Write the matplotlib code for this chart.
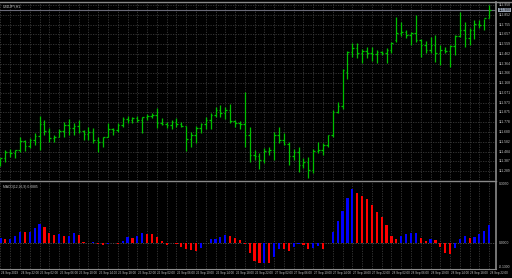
import numpy as np
import matplotlib
matplotlib.use("Agg")
import matplotlib.pyplot as plt

# H1 bars, 24 Sep 18:00 .. 28 Sep 22:00
high = [111.42, 111.50, 111.51, 111.50, 111.63, 111.60, 111.62, 111.67, 111.84, 111.80,
        111.72, 111.65, 111.71, 111.78, 111.81, 111.77, 111.80, 111.70, 111.73, 111.72,
        111.63, 111.63, 111.77, 111.72, 111.77, 111.83, 111.84, 111.83, 111.84, 111.83,
        111.86, 111.87, 111.92, 111.82, 111.78, 111.80, 111.82, 111.78, 111.74, 111.68,
        111.74, 111.77, 111.83, 111.87, 111.93, 111.95, 111.93, 111.96, 111.80, 111.79,
        112.08, 111.73, 111.50, 111.47, 111.52, 111.53, 111.68, 111.73, 111.67, 111.58,
        111.51, 111.53, 111.42, 111.43, 111.51, 111.58, 111.57, 111.65, 111.90, 111.98,
        112.31, 112.49, 112.57, 112.57, 112.51, 112.53, 112.53, 112.50, 112.49, 112.52,
        112.58, 112.83, 112.78, 112.70, 112.68, 112.85, 112.61, 112.59, 112.63, 112.65,
        112.55, 112.53, 112.55, 112.65, 112.88, 112.78, 112.72, 112.80, 112.80, 112.81,
        112.95]
low = [111.34, 111.38, 111.43, 111.42, 111.48, 111.49, 111.52, 111.55, 111.50, 111.65,
       111.58, 111.58, 111.63, 111.63, 111.65, 111.65, 111.67, 111.60, 111.60, 111.57,
       111.48, 111.53, 111.63, 111.65, 111.68, 111.73, 111.77, 111.77, 111.78, 111.67,
       111.80, 111.82, 111.72, 111.75, 111.72, 111.71, 111.73, 111.73, 111.49, 111.53,
       111.57, 111.67, 111.71, 111.71, 111.83, 111.83, 111.81, 111.77, 111.73, 111.71,
       111.53, 111.38, 111.40, 111.31, 111.37, 111.45, 111.40, 111.57, 111.55, 111.35,
       111.40, 111.28, 111.32, 111.22, 111.27, 111.47, 111.45, 111.53, 111.63, 111.87,
       111.91, 112.21, 112.43, 112.42, 112.37, 112.42, 112.39, 112.37, 112.45, 112.37,
       112.47, 112.58, 112.64, 112.62, 112.55, 112.58, 112.43, 112.47, 112.47, 112.38,
       112.35, 112.47, 112.33, 112.45, 112.63, 112.53, 112.55, 112.61, 112.72, 112.70,
       112.82]
open_ = [111.36, 111.42, 111.48, 111.47, 111.50, 111.59, 111.54, 111.60, 111.64, 111.76,
         111.69, 111.62, 111.63, 111.69, 111.75, 111.72, 111.74, 111.69, 111.66, 111.68,
         111.60, 111.58, 111.63, 111.71, 111.70, 111.75, 111.81, 111.80, 111.82, 111.80,
         111.83, 111.84, 111.85, 111.77, 111.76, 111.75, 111.78, 111.76, 111.74, 111.61,
         111.65, 111.72, 111.76, 111.80, 111.85, 111.90, 111.87, 111.90, 111.79, 111.77,
         111.76, 111.65, 111.45, 111.44, 111.40, 111.49, 111.50, 111.65, 111.60, 111.56,
         111.44, 111.48, 111.35, 111.38, 111.30, 111.49, 111.50, 111.55, 111.65, 111.88,
         111.94, 112.28, 112.48, 112.52, 112.47, 112.49, 112.47, 112.46, 112.48, 112.47,
         112.50, 112.60, 112.67, 112.68, 112.65, 112.67, 112.60, 112.55, 112.50, 112.55,
         112.47, 112.50, 112.49, 112.54, 112.64, 112.70, 112.62, 112.70, 112.76, 112.75,
         112.82]
close = [111.42, 111.48, 111.47, 111.50, 111.59, 111.54, 111.60, 111.64, 111.76, 111.69,
         111.62, 111.63, 111.69, 111.75, 111.72, 111.74, 111.69, 111.66, 111.68, 111.60,
         111.58, 111.63, 111.71, 111.70, 111.75, 111.81, 111.80, 111.82, 111.80, 111.83,
         111.84, 111.85, 111.77, 111.76, 111.75, 111.78, 111.76, 111.74, 111.61, 111.65,
         111.72, 111.76, 111.80, 111.85, 111.90, 111.87, 111.90, 111.79, 111.77, 111.76,
         111.65, 111.45, 111.44, 111.40, 111.49, 111.50, 111.65, 111.60, 111.56, 111.44,
         111.48, 111.35, 111.38, 111.30, 111.49, 111.50, 111.55, 111.65, 111.88, 111.94,
         112.30, 112.48, 112.52, 112.47, 112.49, 112.47, 112.46, 112.48, 112.47, 112.50,
         112.57, 112.67, 112.68, 112.65, 112.67, 112.60, 112.55, 112.50, 112.55, 112.47,
         112.50, 112.49, 112.54, 112.64, 112.70, 112.62, 112.70, 112.76, 112.75, 112.82,
         112.90]

# MACD histogram values
macd = [0.024, 0.018, 0.019, 0.035, 0.057, 0.054, 0.057, 0.077, 0.094, 0.080,
        0.049, 0.040, 0.044, 0.035, 0.037, 0.049, 0.040, 0.007, 0.001, 0.007,
        -0.007, -0.010, -0.004, -0.001, -0.007, 0.012, 0.030, 0.024, 0.037, 0.049,
        0.047, 0.044, 0.030, 0.009, -0.010, -0.002, -0.003, -0.019, -0.030, -0.037,
        -0.039, -0.027, 0.002, 0.019, 0.022, 0.029, 0.042, 0.037, 0.025, 0.015,
        -0.007, -0.049, -0.089, -0.102, -0.098, -0.102, -0.072, -0.030, -0.032, -0.040,
        -0.019, -0.005, -0.012, -0.030, -0.024, -0.014, -0.030, -0.002, 0.057, 0.110,
        0.160, 0.225, 0.269, 0.252, 0.235, 0.222, 0.192, 0.155, 0.129, 0.089,
        0.037, 0.022, 0.037, 0.044, 0.049, 0.050, 0.025, 0.009, 0.022, 0.015,
        -0.019, -0.049, -0.055, -0.027, 0.019, 0.035, 0.027, 0.029, 0.044, 0.060,
        0.089]

time_labels = ["24 Sep 2019", "24 Sep 22:00", "25 Sep 02:00", "25 Sep 06:00", "25 Sep 10:00",
               "25 Sep 14:00", "25 Sep 18:00", "25 Sep 22:00", "26 Sep 02:00", "26 Sep 06:00",
               "26 Sep 10:00", "26 Sep 14:00", "26 Sep 18:00", "26 Sep 22:00", "27 Sep 02:00",
               "27 Sep 06:00", "27 Sep 10:00", "27 Sep 14:00", "27 Sep 18:00", "27 Sep 22:00",
               "28 Sep 02:00", "28 Sep 06:00", "28 Sep 10:00", "28 Sep 14:00", "28 Sep 18:00",
               "28 Sep 22:00"]

symbol = "USDJPY,H1"
ind_name = "MACD(12,26,9) 0.0885"

plt.rcParams["font.family"] = ["Liberation Sans", "DejaVu Sans"]

W, H = 512, 278
grid_c = "#3a3a3a"
axis_c = "#8a8a8a"
txt_c = "#c8c8c8"
fs = 2.4      # price / indicator labels
fs_t = 2.2    # time labels

x = np.arange(len(close))
xlim = (-0.1, 101.4)

fig = plt.figure(figsize=(W / 100, H / 100), dpi=100, facecolor="black")
ax = fig.add_axes([0, 1 - 180 / H, 496 / W, 178 / H], facecolor="black")
ax2 = fig.add_axes([0, 1 - 269 / H, 496 / W, 87 / H], facecolor="black")

for a in (ax, ax2):
    a.set_xlim(*xlim)
    for s in a.spines.values():
        s.set_visible(False)
    a.tick_params(left=False, right=False, bottom=False, top=False,
                  labelleft=False, labelbottom=False)
    for gx in range(0, 102, 2):
        a.axvline(gx, color=grid_c, lw=0.6, ls=(0, (1.5, 1.5)), zorder=0)
    a.spines["right"].set_visible(True)
    a.spines["right"].set_color(axis_c)
    a.spines["right"].set_linewidth(1.2)

# ---- price panel
ax.set_ylim(111.20, 112.98)
grid_p = 112.95 - 0.0977 * np.arange(0, 18)
for p in grid_p:
    ax.axhline(p, color=grid_c, lw=0.6, ls=(0, (1.5, 1.5)), zorder=0)
    if abs(p - close[-1]) > 0.04:
        ax.text(1.005, (p - 111.20) / 1.78, f"{p:.3f}", transform=ax.transAxes,
                color=txt_c, fontsize=fs, va="center", ha="left", clip_on=False)

green = "#00c000"
ax.vlines(x, low, high, color=green, lw=0.9, zorder=3)
ax.hlines(open_, x - 0.32, x, color=green, lw=0.9, zorder=3)
ax.hlines(close, x, x + 0.32, color=green, lw=0.9, zorder=3)

bid = close[-1]
ax.axhline(bid, color="#6a6a78", lw=0.8, zorder=1)
ax.text(1.005, (bid - 111.20) / 1.78, f"{bid:.3f}", transform=ax.transAxes,
        color="black", fontsize=fs, va="center", ha="left",
        bbox=dict(boxstyle="square,pad=0.1", fc="#9aa4b4", ec="none"))
ax.text(0.006, 0.985, symbol, transform=ax.transAxes, color=txt_c,
        fontsize=fs, va="top", ha="left")

# ---- indicator panel
lo, hi = -0.130, 0.305
ax2.set_ylim(lo, hi)
ax2.axhline(0, color="#555555", lw=0.6, ls=(0, (1.5, 1.5)), zorder=1)
cols = ["#0000ff"] + ["#0000ff" if macd[i] > macd[i - 1] else "#ff0000"
                      for i in range(1, len(macd))]
ax2.bar(x, macd, width=0.45, color=cols, zorder=3)
for v, va in ((hi, "top"), (0.0, "center"), (lo, "bottom")):
    ax2.text(1.005, (v - lo) / (hi - lo), f"{v:.4f}", transform=ax2.transAxes,
             color=txt_c, fontsize=fs, va=va, ha="left", clip_on=False)
ax2.text(0.006, 0.97, ind_name, transform=ax2.transAxes, color=txt_c,
         fontsize=fs, va="top", ha="left")
ax2.spines["bottom"].set_visible(True)
ax2.spines["bottom"].set_color(axis_c)
ax2.spines["bottom"].set_linewidth(0.8)

# time axis labels
for k, lab in enumerate(time_labels):
    ax2.text(4 * k + 0.1, -0.025, lab, transform=ax2.get_xaxis_transform(),
             color=txt_c, fontsize=fs_t, va="top", ha="left", clip_on=False)

# frame lines
fig.add_artist(plt.Line2D([0, 1], [1 - 1.5 / H, 1 - 1.5 / H], color=axis_c, lw=1.0))
fig.add_artist(plt.Line2D([0, 496 / W], [1 - 181 / H, 1 - 181 / H], color=axis_c, lw=1.0))

fig.savefig("out.png", dpi=100, facecolor="black")
